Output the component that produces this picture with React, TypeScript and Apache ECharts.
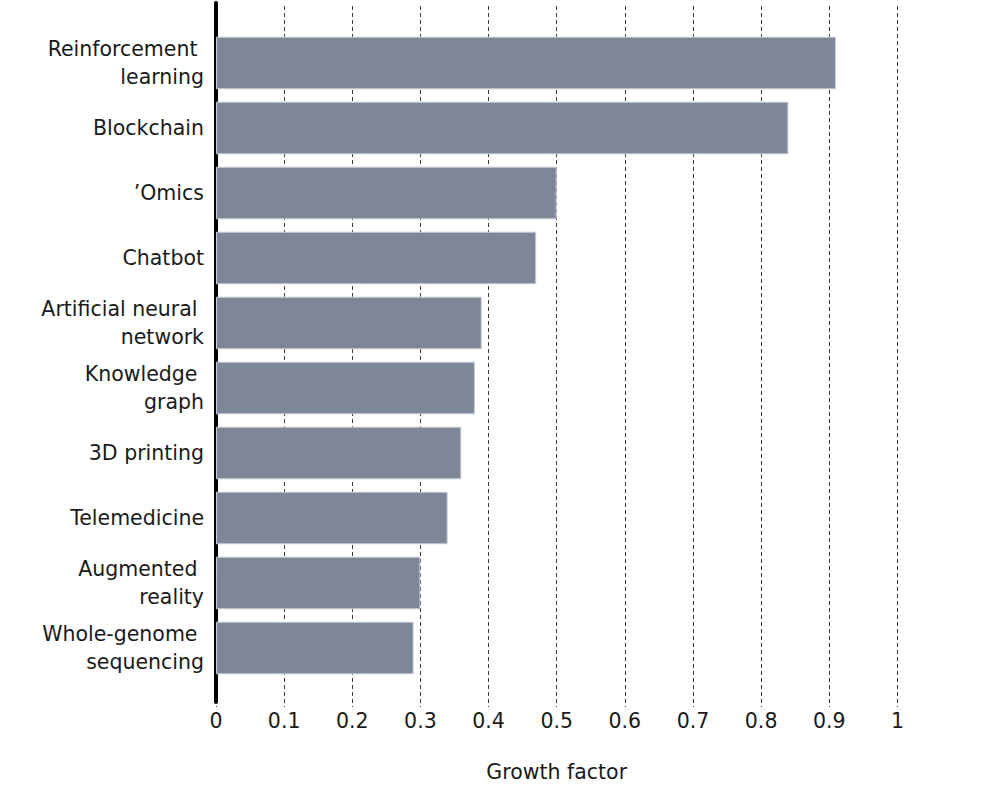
import React, { useEffect, useRef } from "react";
import * as echarts from "echarts";

const categories = [
  "Reinforcement \nlearning",
  "Blockchain",
  "\u2019Omics",
  "Chatbot",
  "Artificial neural \nnetwork",
  "Knowledge \ngraph",
  "3D printing",
  "Telemedicine",
  "Augmented \nreality",
  "Whole-genome \nsequencing",
];
const growthValues = [0.91, 0.84, 0.5, 0.47, 0.39, 0.38, 0.36, 0.34, 0.3, 0.29];
const xTicks = [0, 0.1, 0.2, 0.3, 0.4, 0.5, 0.6, 0.7, 0.8, 0.9, 1];
const axisTitle = "Growth factor";

const FONT = "'DejaVu Sans', 'Noto Sans', sans-serif";

export default function App() {
  const ref = useRef<HTMLDivElement>(null);
  useEffect(() => {
    document.body.style.margin = "0";
    if (!ref.current) return;
    const chart = echarts.init(ref.current, undefined, { renderer: "svg" });
    const left = 216;
    const right = 985 - 897.4;
    chart.setOption({
      animation: false,
      backgroundColor: "#ffffff",
      textStyle: { fontFamily: FONT },
      grid: [
        { left, right, top: 6, height: 701 },
        { left, right, top: 30.5, height: 650 },
        { left: 215.5, right, top: 3, height: 699 },
      ],
      xAxis: [
        {
          gridIndex: 0,
          type: "value",
          min: xTicks[0],
          max: xTicks[xTicks.length - 1],
          interval: 0.1,
          axisLine: { show: false },
          axisTick: { show: false },
          splitLine: {
            show: true,
            lineStyle: { color: "#3a3a3a", type: [4, 3], width: 1 },
          },
          axisLabel: {
            color: "#1a1a1a",
            fontSize: 20.5,
            fontFamily: FONT,
            margin: 3,
            formatter: (v: number) => String(Math.round(v * 10) / 10),
          },
          name: axisTitle,
          nameLocation: "middle",
          nameGap: 54,
          nameTextStyle: { color: "#1a1a1a", fontSize: 20.5, fontFamily: FONT },
        },
        { gridIndex: 1, type: "value", min: 0, max: 1, show: false },
        { gridIndex: 2, type: "value", min: 0, max: 1, show: false },
      ],
      yAxis: [
        { gridIndex: 0, type: "value", show: false },
        {
          gridIndex: 1,
          type: "category",
          data: categories,
          inverse: true,
          axisLine: { show: false },
          axisTick: { show: false },
          axisLabel: {
            color: "#1a1a1a",
            fontSize: 20.5,
            lineHeight: 28,
            fontFamily: FONT,
            margin: 12,
            align: "right",
          },
        },
        {
          gridIndex: 2,
          type: "value",
          min: 0,
          max: 1,
          axisLine: { show: true, lineStyle: { color: "#000000", width: 4 } },
          axisTick: { show: false },
          axisLabel: { show: false },
          splitLine: { show: false },
        },
      ],
      series: [
        {
          type: "bar",
          xAxisIndex: 1,
          yAxisIndex: 1,
          data: growthValues,
          barCategoryGap: "19%",
          itemStyle: {
            color: "#7d8797",
            borderColor: "#c9ced6",
            borderWidth: 1,
          },
          z: 3,
        },
      ],
    });
    return () => chart.dispose();
  }, []);
  return <div ref={ref} style={{ width: 985, height: 802 }} />;
}
